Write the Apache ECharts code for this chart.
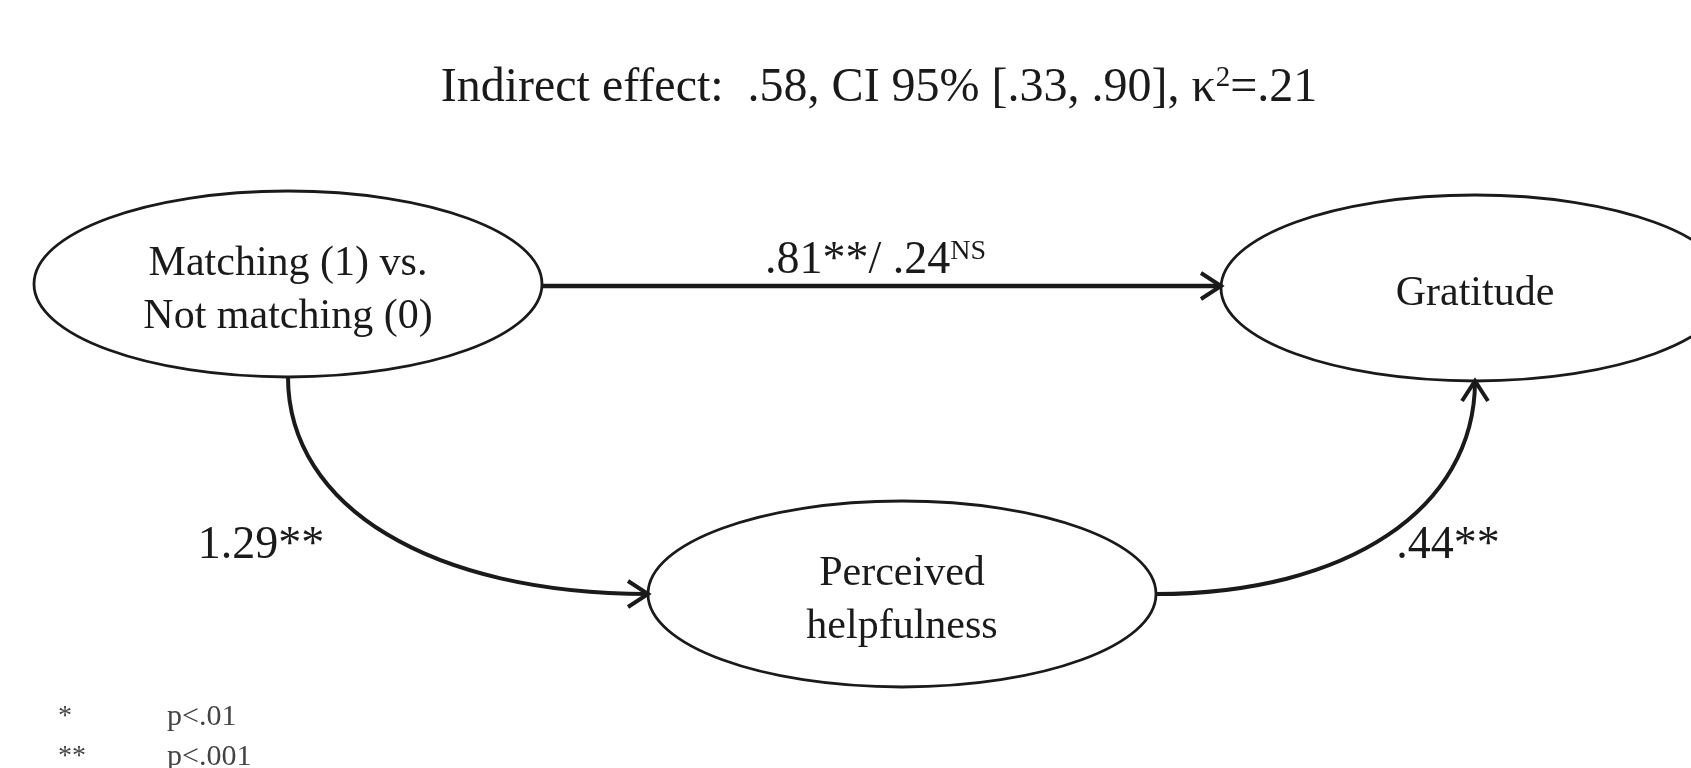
<!DOCTYPE html>
<html>
<head>
<meta charset="utf-8">
<script src="https://cdn.jsdelivr.net/npm/echarts@6/dist/echarts.min.js"></script>
<style>
    html, body { margin: 0; padding: 0; background: #fff; }
    #main { width: 1691px; height: 768px; }
</style>
</head>
<body>
<div id="main"></div>
<script>
// 节点
var nodeNames = ['Matching (1) vs.\nNot matching (0)', 'Gratitude', 'Perceived\nhelpfulness'];
var nodeX = [288, 1475, 902];
var nodeY = [284, 288, 594];

// 路径
var pathFrom = [0, 0, 2];
var pathTo = [1, 2, 1];
var pathLabels = ['.81**/ .24{ns|NS}', '1.29**', '.44**'];

// 间接效应
var indirectEffect = '.58';
var ciLow = '.33';
var ciHigh = '.90';
var kappa2 = '.21';

// 注释
var noteMarks = ['*', '**'];
var noteTexts = ['p<.01', 'p<.001'];

var serif = '"Liberation Serif", "Times New Roman", serif';
var ink = '#1a1a1a';
var RX = 254, RY = 93;
var BEND = 0.6;

var myChart = echarts.init(document.getElementById('main'));

function renderNode(params, api) {
    var c = api.coord([api.value(0), api.value(1)]);
    var r = api.size([RX, RY]);
    return {
        type: 'group',
        children: [{
            type: 'ellipse',
            shape: { cx: c[0], cy: c[1], rx: r[0], ry: r[1] },
            style: { fill: '#fff', stroke: ink, lineWidth: 2.8 }
        }, {
            type: 'text',
            style: {
                text: nodeNames[params.dataIndex],
                x: c[0], y: c[1] + 6,
                align: 'center', verticalAlign: 'middle',
                fontSize: 42, fontFamily: serif, lineHeight: 53,
                fill: ink
            }
        }]
    };
}

function renderPath(params, api) {
    var a = api.value(0), b = api.value(1);
    var p = api.coord([nodeX[a], nodeY[a]]);
    var q = api.coord([nodeX[b], nodeY[b]]);
    var r = api.size([RX, RY]);
    var s, e, c1, c2, lab, children = [];
    if (Math.abs(p[1] - q[1]) < 20) {
        var y = (p[1] + q[1]) / 2;
        s = [p[0] + r[0], y];
        e = [q[0] - r[0], y];
        c1 = s; c2 = s;
        lab = [(s[0] + e[0]) / 2 - 6, y - 25];
        children.push({
            type: 'line',
            shape: { x1: s[0], y1: s[1], x2: e[0], y2: e[1] },
            style: { stroke: ink, lineWidth: 4.5 }
        });
    } else {
        var corner;
        if (q[1] > p[1]) {
            s = [p[0], p[1] + r[1]];
            e = [q[0] - r[0], q[1]];
            corner = [p[0], q[1]];
        } else {
            s = [p[0] + r[0], p[1]];
            e = [q[0], q[1] + r[1]];
            corner = [q[0], p[1]];
        }
        c1 = [s[0] + BEND * (corner[0] - s[0]), s[1] + BEND * (corner[1] - s[1])];
        c2 = [e[0] + BEND * (corner[0] - e[0]), e[1] + BEND * (corner[1] - e[1])];
        lab = [corner[0] - 27, corner[1] - 48];
        children.push({
            type: 'bezierCurve',
            shape: { x1: s[0], y1: s[1], x2: e[0], y2: e[1], cpx1: c1[0], cpy1: c1[1], cpx2: c2[0], cpy2: c2[1] },
            style: { stroke: ink, lineWidth: 4, fill: null }
        });
    }
    // 箭头
    var dx = e[0] - c2[0], dy = e[1] - c2[1];
    var len = Math.sqrt(dx * dx + dy * dy);
    dx /= len; dy /= len;
    var L = 20, W = 13;
    children.push({
        type: 'polyline',
        shape: { points: [
            [e[0] - L * dx - W * dy, e[1] - L * dy + W * dx],
            [e[0], e[1]],
            [e[0] - L * dx + W * dy, e[1] - L * dy - W * dx]
        ] },
        style: { stroke: ink, lineWidth: 4, fill: null, lineJoin: 'miter' }
    });
    children.push({
        type: 'text',
        style: {
            text: pathLabels[params.dataIndex],
            x: lab[0], y: lab[1],
            align: 'center', verticalAlign: 'middle',
            fontSize: 46, fontFamily: serif, fill: ink,
            rich: {
                ns: { fontSize: 28, fontFamily: serif, fill: ink, verticalAlign: 'top' }
            }
        }
    });
    return { type: 'group', children: children };
}

var graphics = [{
    type: 'text',
    x: 879, y: 88,
    style: {
        text: 'Indirect effect:  ' + indirectEffect + ', CI 95% [' + ciLow + ', ' + ciHigh + '], κ{sup|2}=' + kappa2,
        align: 'center', verticalAlign: 'middle',
        fontSize: 48, fontFamily: serif, fill: ink,
        rich: {
            sup: { fontSize: 29, fontFamily: serif, fill: ink, verticalAlign: 'top' }
        }
    }
}];
noteMarks.forEach(function(m, i) {
    graphics.push({
        type: 'text', x: 58, y: 717 + i * 40,
        style: { text: m, align: 'left', verticalAlign: 'middle', fontSize: 28, fontFamily: serif, fill: '#444' }
    });
    graphics.push({
        type: 'text', x: 167, y: 717 + i * 40,
        style: { text: noteTexts[i], align: 'left', verticalAlign: 'middle', fontSize: 30, fontFamily: serif, fill: '#444' }
    });
});

var option = {
    animation: false,
    backgroundColor: '#fff',
    grid: { left: 0, right: 0, top: 0, bottom: 0 },
    xAxis: { type: 'value', min: 0, max: 1691, show: false },
    yAxis: { type: 'value', min: 0, max: 768, inverse: true, show: false },
    graphic: graphics,
    series: [{
        type: 'custom',
        name: 'nodes',
        renderItem: renderNode,
        data: nodeX.map(function(x, i) { return [x, nodeY[i]]; }),
        z: 2
    }, {
        type: 'custom',
        name: 'paths',
        renderItem: renderPath,
        encode: { x: -1, y: -1 },
        data: pathFrom.map(function(f, i) { return [f, pathTo[i]]; }),
        z: 3
    }]
};

myChart.setOption(option);

window.addEventListener('resize', function() {
    myChart.resize();
});
</script>
</body>
</html>
